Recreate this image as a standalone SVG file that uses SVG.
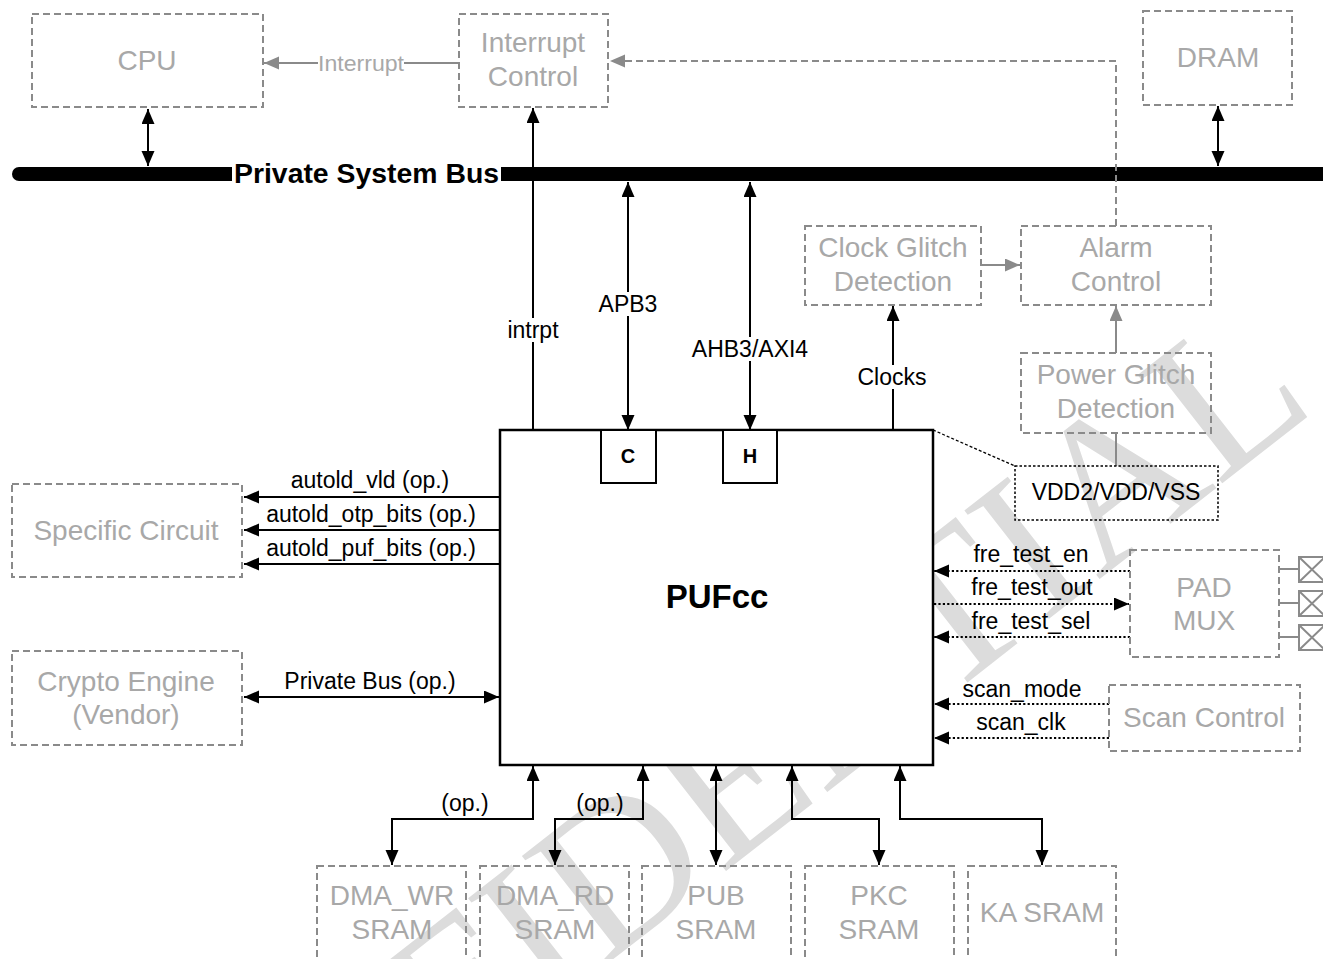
<svg xmlns="http://www.w3.org/2000/svg" width="1323" height="959" viewBox="0 0 1323 959">
<style>
.gbox{fill:none;stroke:#8a8a8a;stroke-width:2;stroke-dasharray:7,4}
.gt{font-family:"Liberation Sans",Arial,sans-serif;font-size:28px;fill:#a8a8a8;text-anchor:middle;dominant-baseline:central}
.bt{font-family:"Liberation Sans",Arial,sans-serif;font-size:23px;fill:#000;text-anchor:middle;dominant-baseline:central}
.ln{stroke:#000;stroke-width:2;fill:none}
.dl{stroke:#000;stroke-width:2.2;fill:none;stroke-dasharray:2.2,2.2}
.gl{stroke:#8a8a8a;stroke-width:2;fill:none}
.gd{stroke:#8a8a8a;stroke-width:2;fill:none;stroke-dasharray:7,4}
.wm{font-family:"Liberation Serif","Times New Roman",serif;font-size:210px;fill:#dcdcdc}
</style>
<defs>
<marker id="a" markerUnits="userSpaceOnUse" markerWidth="16" markerHeight="14" refX="15" refY="6.5" orient="auto-start-reverse"><path d="M0,0 L15,6.5 L0,13 z" fill="#000"/></marker>
<marker id="g" markerUnits="userSpaceOnUse" markerWidth="16" markerHeight="14" refX="15" refY="6.5" orient="auto-start-reverse"><path d="M0,0 L15,6.5 L0,13 z" fill="#8a8a8a"/></marker>
</defs>
<rect width="1323" height="959" fill="#fff"/>
<g id="watermark"><text class="wm" transform="translate(712,882) rotate(-38)" text-anchor="middle">CONFIDENTIAL</text></g>

<g id="bus">
<path d="M19,167 H1323 V181 H19 A7,7 0 0 1 19,167 z" fill="#000"/>
<rect x="232" y="164" width="269" height="20" fill="#fff"/>
<text x="234" y="174" font-family="Liberation Sans,Arial,sans-serif" font-size="27" font-weight="bold" dominant-baseline="central" textLength="265" lengthAdjust="spacingAndGlyphs">Private System Bus</text>
</g>

<g id="connectors">
<line class="ln" x1="148" y1="109" x2="148" y2="166" marker-start="url(#a)" marker-end="url(#a)"/>
<line class="ln" x1="1218" y1="106" x2="1218" y2="166" marker-start="url(#a)" marker-end="url(#a)"/>
<line class="gl" x1="459" y1="63" x2="264" y2="63" marker-end="url(#g)"/>
<rect x="318" y="52" width="86" height="22" fill="#fff"/>
<text x="361" y="63" font-family="Liberation Sans,Arial,sans-serif" font-size="22" fill="#a8a8a8" text-anchor="middle" dominant-baseline="central" textLength="86" lengthAdjust="spacingAndGlyphs">Interrupt</text>
<path class="gd" d="M1116,226 V61 H610" marker-end="url(#g)"/>
<line class="ln" x1="533" y1="430" x2="533" y2="108" marker-end="url(#a)"/>
<line class="ln" x1="628" y1="182" x2="628" y2="430" marker-start="url(#a)" marker-end="url(#a)"/>
<line class="ln" x1="750" y1="182" x2="750" y2="430" marker-start="url(#a)" marker-end="url(#a)"/>
<line class="ln" x1="893" y1="430" x2="893" y2="306" marker-end="url(#a)"/>
<line class="gl" x1="981" y1="265" x2="1020" y2="265" marker-end="url(#g)"/>
<line class="gl" x1="1116" y1="353" x2="1116" y2="306" marker-end="url(#g)"/>
<line class="gl" x1="1116" y1="433" x2="1116" y2="466"/>
<line x1="933" y1="430" x2="1015" y2="466" stroke="#000" stroke-width="1.3" stroke-dasharray="3,2"/>
<line class="ln" x1="500" y1="497" x2="244" y2="497" marker-end="url(#a)"/>
<line class="ln" x1="500" y1="530" x2="244" y2="530" marker-end="url(#a)"/>
<line class="ln" x1="500" y1="564" x2="244" y2="564" marker-end="url(#a)"/>
<line class="ln" x1="244" y1="697" x2="499" y2="697" marker-start="url(#a)" marker-end="url(#a)"/>
<line class="dl" x1="1130" y1="571" x2="934" y2="571" marker-end="url(#a)"/>
<line class="dl" x1="934" y1="604" x2="1129" y2="604" marker-end="url(#a)"/>
<line class="dl" x1="1130" y1="637" x2="934" y2="637" marker-end="url(#a)"/>
<line class="dl" x1="1109" y1="704" x2="934" y2="704" marker-end="url(#a)"/>
<line class="dl" x1="1109" y1="738" x2="934" y2="738" marker-end="url(#a)"/>
<path class="ln" d="M533,766 V819 H392 V865" marker-start="url(#a)" marker-end="url(#a)"/>
<path class="ln" d="M643,766 V819 H555 V865" marker-start="url(#a)" marker-end="url(#a)"/>
<line class="ln" x1="716" y1="766" x2="716" y2="865" marker-start="url(#a)" marker-end="url(#a)"/>
<path class="ln" d="M792,766 V819 H879 V865" marker-start="url(#a)" marker-end="url(#a)"/>
<path class="ln" d="M900,766 V819 H1042 V865" marker-start="url(#a)" marker-end="url(#a)"/>
<line class="gl" x1="1279" y1="569" x2="1299" y2="569"/>
<line class="gl" x1="1279" y1="603" x2="1299" y2="603"/>
<line class="gl" x1="1279" y1="637" x2="1299" y2="637"/>
</g>

<g id="labels">
<rect x="504" y="318" width="58" height="24" fill="#fff"/>
<text class="bt" x="533" y="330">intrpt</text>
<rect x="596" y="292" width="64" height="24" fill="#fff"/>
<text class="bt" x="628" y="304">APB3</text>
<rect x="688" y="337" width="124" height="24" fill="#fff"/>
<text class="bt" x="750" y="349">AHB3/AXI4</text>
<rect x="856" y="365" width="74" height="24" fill="#fff"/>
<text class="bt" x="892" y="377">Clocks</text>
<text class="bt" x="370" y="480">autold_vld (op.)</text>
<text class="bt" x="371" y="514">autold_otp_bits (op.)</text>
<text class="bt" x="371" y="548">autold_puf_bits (op.)</text>
<text class="bt" x="370" y="681">Private Bus (op.)</text>
<text class="bt" x="1031" y="554">fre_test_en</text>
<text class="bt" x="1032" y="587">fre_test_out</text>
<text class="bt" x="1031" y="621">fre_test_sel</text>
<text class="bt" x="1022" y="689">scan_mode</text>
<text class="bt" x="1021" y="722">scan_clk</text>
<text class="bt" x="465" y="803">(op.)</text>
<text class="bt" x="600" y="803">(op.)</text>
</g>

<g id="cpu"><rect class="gbox" x="32" y="14" width="231" height="93"/><text class="gt" x="147" y="60">CPU</text></g>
<g id="interrupt-control"><rect class="gbox" x="459" y="14" width="149" height="93"/><text class="gt" x="533" y="42">Interrupt</text><text class="gt" x="533" y="76">Control</text></g>
<g id="dram"><rect class="gbox" x="1143" y="11" width="149" height="94"/><text class="gt" x="1218" y="57">DRAM</text></g>
<g id="clock-glitch"><rect class="gbox" x="805" y="226" width="176" height="79"/><text class="gt" x="893" y="247">Clock Glitch</text><text class="gt" x="893" y="281">Detection</text></g>
<g id="alarm-control"><rect class="gbox" x="1021" y="226" width="190" height="79"/><text class="gt" x="1116" y="247">Alarm</text><text class="gt" x="1116" y="281">Control</text></g>
<g id="power-glitch"><rect class="gbox" x="1021" y="353" width="190" height="80"/><text class="gt" x="1116" y="374">Power Glitch</text><text class="gt" x="1116" y="408">Detection</text></g>
<g id="vdd"><rect x="1015" y="466" width="203" height="54" fill="none" stroke="#000" stroke-width="1.5" stroke-dasharray="2.5,2"/><text class="bt" x="1116" y="492">VDD2/VDD/VSS</text></g>
<g id="specific-circuit"><rect class="gbox" x="12" y="484" width="230" height="93"/><text class="gt" x="126" y="530">Specific Circuit</text></g>
<g id="crypto-engine"><rect class="gbox" x="12" y="651" width="230" height="94"/><text class="gt" x="126" y="681">Crypto Engine</text><text class="gt" x="126" y="714">(Vendor)</text></g>
<g id="pufcc">
<rect x="500" y="430" width="433" height="335" fill="#fff" stroke="#000" stroke-width="2.5"/>
<text x="717" y="596" font-family="Liberation Sans,Arial,sans-serif" font-size="33" font-weight="bold" text-anchor="middle" dominant-baseline="central">PUFcc</text>
</g>
<g id="c-port"><rect x="601" y="430" width="55" height="53" fill="#fff" stroke="#000" stroke-width="2"/><text x="628" y="456" font-family="Liberation Sans,Arial,sans-serif" font-size="20" font-weight="bold" text-anchor="middle" dominant-baseline="central">C</text></g>
<g id="h-port"><rect x="723" y="430" width="54" height="53" fill="#fff" stroke="#000" stroke-width="2"/><text x="750" y="456" font-family="Liberation Sans,Arial,sans-serif" font-size="20" font-weight="bold" text-anchor="middle" dominant-baseline="central">H</text></g>
<g id="pad-mux"><rect class="gbox" x="1130" y="550" width="149" height="107"/><text class="gt" x="1204" y="587">PAD</text><text class="gt" x="1204" y="620">MUX</text></g>
<g id="pads" stroke="#8a8a8a" stroke-width="2" fill="none">
<rect x="1299" y="557" width="26" height="25"/><path d="M1299,557 L1325,582 M1325,557 L1299,582"/>
<rect x="1299" y="591" width="26" height="25"/><path d="M1299,591 L1325,616 M1325,591 L1299,616"/>
<rect x="1299" y="625" width="26" height="25"/><path d="M1299,625 L1325,650 M1325,625 L1299,650"/>
</g>
<g id="scan-control"><rect class="gbox" x="1109" y="685" width="191" height="66"/><text class="gt" x="1204" y="717">Scan Control</text></g>
<g id="dma-wr"><rect class="gbox" x="317" y="866" width="149" height="100"/><text class="gt" x="392" y="895">DMA_WR</text><text class="gt" x="392" y="929">SRAM</text></g>
<g id="dma-rd"><rect class="gbox" x="480" y="866" width="149" height="100"/><text class="gt" x="555" y="895">DMA_RD</text><text class="gt" x="555" y="929">SRAM</text></g>
<g id="pub"><rect class="gbox" x="642" y="866" width="149" height="100"/><text class="gt" x="716" y="895">PUB</text><text class="gt" x="716" y="929">SRAM</text></g>
<g id="pkc"><rect class="gbox" x="805" y="866" width="149" height="100"/><text class="gt" x="879" y="895">PKC</text><text class="gt" x="879" y="929">SRAM</text></g>
<g id="ka"><rect class="gbox" x="968" y="866" width="148" height="100"/><text class="gt" x="1042" y="912">KA SRAM</text></g>
</svg>
